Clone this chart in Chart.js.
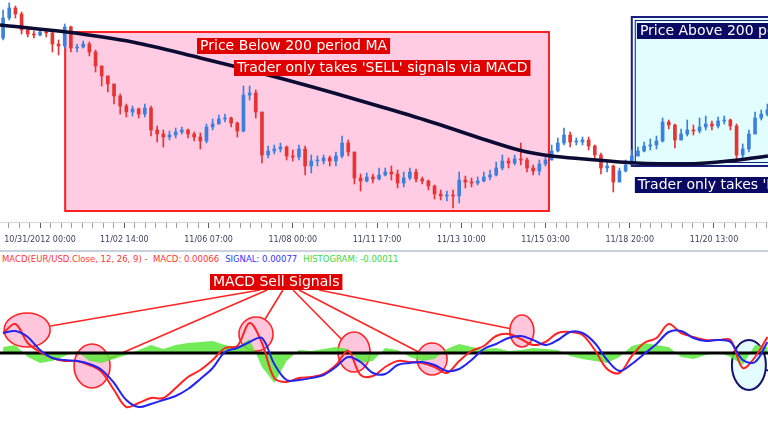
<!DOCTYPE html>
<html lang="en">
<head>
<meta charset="UTF-8">
<title>EUR/USD hourly - 200 MA and MACD</title>
<script src="https://cdn.jsdelivr.net/npm/chart.js"></script>
<style>
    body{
        margin: 0;
        width: 768px;
        height: 432px;
        overflow: hidden;
        position: relative;
        background: #fff;
        font-family: "DejaVu Sans", sans-serif;
    }
    #priceChart{ position: absolute; left: 0; top: 0; }
    #macdChart{ position: absolute; left: 0; top: 262px; }
    .sep{ position: absolute; left: 0; top: 250px; width: 768px; height: 2px; background: #c9d1dc; }
    .legend{ position: absolute; left: 2px; top: 254px; font-size: 8.5px; line-height: 10px; white-space: nowrap; }
    .legend span{ margin-right: 6px; }
</style>
</head>
<body>
<canvas id="priceChart" width="768" height="250"></canvas>
<div class="sep"></div>
<div class="legend"><span style="color:#ff3434">MACD(EUR/USD.Close, 12, 26, 9) -&nbsp; MACD: 0.00066</span><span style="color:#3434ff">SIGNAL: 0.00077</span><span style="color:#3ad83a">HISTOGRAM: -0.00011</span></div>
<canvas id="macdChart" width="768" height="170"></canvas>
<script>
// time axis is in hours, 0 = 10/31/2012 00:00 (one label every 41 trading hours)
const timeLabels = ["10/31/2012 00:00", "11/02 14:00", "11/06 07:00", "11/08 00:00", "11/11 17:00",
    "11/13 10:00", "11/15 03:00", "11/18 20:00", "11/20 13:00"];
const labelStep = 41;
const xMin = -19.5, xMax = 354.3;

// 3-hour candles starting at hour -18
const firstCandleHour = -18;
const open0 = 1.2962;
const closes = [
    1.2982,1.2992,1.2986,1.2970,1.2966,1.2965,1.2968,1.2967,1.2956,1.2954,
    1.2973,1.2952,1.2953,1.2956,1.2948,1.2934,1.2924,1.2916,1.2904,1.2894,
    1.2888,1.2891,1.2886,1.2892,1.2870,1.2866,1.2863,1.2865,1.2868,1.2870,
    1.2866,1.2863,1.2859,1.2873,1.2876,1.2881,1.2882,1.2877,1.2869,1.2905,
    1.2907,1.2888,1.2845,1.2849,1.2851,1.2853,1.2844,1.2843,1.2851,1.2834,
    1.2839,1.2839,1.2842,1.2839,1.2844,1.2857,1.2848,1.2822,1.2819,1.2823,
    1.2821,1.2825,1.2828,1.2826,1.2817,1.2822,1.2828,1.2821,1.2819,1.2814,
    1.2806,1.2804,1.2805,1.2804,1.2820,1.2818,1.2817,1.2819,1.2823,1.2825,
    1.2832,1.2839,1.2837,1.2841,1.2840,1.2832,1.2829,1.2836,1.2840,1.2849,
    1.2857,1.2865,1.2858,1.2858,1.2860,1.2854,1.2845,1.2832,1.2834,1.2818,
    1.2829,1.2835,1.2844,1.2849,1.2854,1.2855,1.2859,1.2878,1.2875,1.2860,
    1.2866,1.2870,1.2869,1.2873,1.2876,1.2874,1.2879,1.2880,1.2874,1.2845,
    1.2851,1.2866,1.2882,1.2886,1.2890
];
const highs = [
    1.2990,1.2997,1.2994,1.2988,1.2971,1.2969,1.2971,1.2970,1.2968,1.2960,
    1.2976,1.2974,1.2956,1.2959,1.2958,1.2950,1.2934,1.2924,1.2916,1.2906,
    1.2896,1.2894,1.2892,1.2896,1.2894,1.2874,1.2870,1.2869,1.2872,1.2873,
    1.2871,1.2868,1.2867,1.2876,1.2881,1.2885,1.2886,1.2883,1.2878,1.2914,
    1.2914,1.2910,1.2888,1.2854,1.2855,1.2857,1.2854,1.2850,1.2855,1.2854,
    1.2845,1.2844,1.2845,1.2844,1.2848,1.2864,1.2860,1.2848,1.2826,1.2827,
    1.2826,1.2832,1.2832,1.2834,1.2830,1.2828,1.2832,1.2831,1.2823,1.2820,
    1.2815,1.2810,1.2809,1.2810,1.2828,1.2824,1.2822,1.2823,1.2828,1.2830,
    1.2838,1.2845,1.2842,1.2845,1.2857,1.2842,1.2835,1.2840,1.2844,1.2855,
    1.2862,1.2872,1.2868,1.2862,1.2863,1.2863,1.2855,1.2847,1.2838,1.2835,
    1.2832,1.2840,1.2850,1.2853,1.2858,1.2861,1.2864,1.2882,1.2880,1.2876,
    1.2871,1.2880,1.2875,1.2882,1.2884,1.2879,1.2883,1.2884,1.2881,1.2876,
    1.2856,1.2870,1.2888,1.2890,1.2896
];
const lows = [
    1.2960,1.2980,1.2982,1.2966,1.2963,1.2962,1.2964,1.2963,1.2948,1.2945,
    1.2952,1.2948,1.2948,1.2952,1.2944,1.2928,1.2914,1.2908,1.2896,1.2886,
    1.2883,1.2884,1.2882,1.2883,1.2864,1.2858,1.2853,1.2860,1.2862,1.2866,
    1.2862,1.2859,1.2851,1.2857,1.2870,1.2876,1.2878,1.2873,1.2863,1.2868,
    1.2900,1.2882,1.2837,1.2842,1.2846,1.2848,1.2840,1.2839,1.2840,1.2825,
    1.2827,1.2834,1.2836,1.2834,1.2834,1.2842,1.2844,1.2816,1.2809,1.2818,
    1.2817,1.2820,1.2824,1.2820,1.2812,1.2813,1.2820,1.2818,1.2816,1.2810,
    1.2801,1.2800,1.2799,1.2792,1.2797,1.2812,1.2813,1.2815,1.2818,1.2820,
    1.2824,1.2830,1.2832,1.2835,1.2835,1.2828,1.2825,1.2825,1.2834,1.2840,
    1.2848,1.2855,1.2853,1.2855,1.2855,1.2850,1.2842,1.2826,1.2828,1.2808,
    1.2818,1.2828,1.2838,1.2844,1.2848,1.2850,1.2851,1.2858,1.2871,1.2852,
    1.2860,1.2864,1.2865,1.2867,1.2870,1.2870,1.2872,1.2876,1.2870,1.2838,
    1.2842,1.2848,1.2866,1.2880,1.2884
];

// 200 period moving average
const maHours = [-19.5, 13, 45, 78, 111, 143, 168, 192, 217, 233, 249, 265, 290, 314, 330, 347, 354.3];
const maValues = [1.2975, 1.2968, 1.2958, 1.2942, 1.2925, 1.2907, 1.2892, 1.2877, 1.2860, 1.2850,
    1.2844, 1.2841, 1.2837, 1.2836, 1.2838, 1.2842, 1.2844];

// MACD panel, one value every 6 hours from hour -18
const firstMacdHour = -18;
const macdLine = [
    0.00080, 0.00116, 0.00040, 0.00004, -0.00020, -0.00032, -0.00032, -0.00048, -0.00076, -0.00148,
    -0.00216, -0.00200, -0.00180, -0.00180, -0.00140, -0.00096, -0.00068, -0.00028, 0.00020, 0.00028,
    0.00120, 0.00040, -0.00100, -0.00116, -0.00100, -0.00096, -0.00084, -0.00048, 0.00008, -0.00088,
    -0.00092, -0.00056, -0.00032, -0.00036, -0.00040, -0.00056, -0.00080, -0.00032, 0.00008, 0.00028,
    0.00068, 0.00076, 0.00056, 0.00032, 0.00044, 0.00080, 0.00084, 0.00072, 0.00012, -0.00064,
    -0.00080, -0.00012, 0.00040, 0.00060, 0.00116, 0.00080, 0.00064, 0.00052, 0.00052, 0.00052,
    -0.00060, -0.00016, 0.00064
];
const signalLine = [
    0.00080, 0.00088, 0.00064, 0.00012, -0.00020, -0.00028, -0.00032, -0.00044, -0.00068, -0.00120,
    -0.00188, -0.00216, -0.00204, -0.00188, -0.00172, -0.00144, -0.00104, -0.00060, 0.00004, 0.00020,
    0.00044, 0.00060, -0.00044, -0.00108, -0.00108, -0.00100, -0.00088, -0.00056, -0.00016, -0.00036,
    -0.00080, -0.00084, -0.00048, -0.00040, -0.00036, -0.00048, -0.00072, -0.00064, -0.00028, 0.00016,
    0.00036, 0.00060, 0.00068, 0.00052, 0.00032, 0.00052, 0.00084, 0.00080, 0.00040, -0.00028,
    -0.00072, -0.00044, -0.00004, 0.00036, 0.00084, 0.00088, 0.00060, 0.00048, 0.00052, 0.00044,
    -0.00028, -0.00036, 0.00044
];
const histogram = [
    0.00024, 0.00032, -0.00016, -0.00040, -0.00032, -0.00012, 0.00008, -0.00032, -0.00040, -0.00024,
    -0.00008, 0.00012, 0.00032, 0.00016, 0.00032, 0.00040, 0.00044, 0.00048, 0.00032, 0.00024,
    0.00056, -0.00056, -0.00120, -0.00032, 0.00012, 0.00008, 0.00016, 0.00024, 0.00016, -0.00040,
    -0.00032, 0.00020, 0.00012, -0.00016, -0.00032, -0.00024, 0.00016, 0.00036, 0.00024, 0.00016,
    0.00020, 0.00008, 0.00012, 0.00020, 0.00016, 0.00012, -0.00012, -0.00024, -0.00032, -0.00040,
    -0.00016, 0.00028, 0.00040, 0.00032, 0.00024, -0.00016, -0.00024, -0.00008, 0.00004, -0.00016,
    -0.00048, 0.00032, 0.00024
];

// annotations (data coordinates: hours / price or hours / macd value)
const priceBoxes = [
    {x0: 12.2, x1: 247.7, y0: 1.2968, y1: 1.2789, fill: "#ffcce3", stroke: "#ff2020", inner: false},
    {x0: 288, x1: 372, y0: 1.2983, y1: 1.2834, fill: "#e2fdfe", stroke: "#1c1c7c", inner: true}
];
const priceNotes = [
    {text: "Price Below 200 period MA", x: 76.4, y: 1.2962, bg: "#e10000"},
    {text: "Trader only takes 'SELL' signals via MACD", x: 94.4, y: 1.2940, bg: "#e10000"},
    {text: "Price Above 200 period MA", x: 290.5, y: 1.2977, bg: "#0a0a64"},
    {text: "Trader only takes 'BUY' signals via MACD", x: 289.5, y: 1.2823, bg: "#0a0a64"}
];
const sellNote = {text: "MACD Sell Signals", x: 82.7, y: 0.00316, bg: "#e10000"};
const sellCircles = [
    {x: -6.3, y: 0.00092, rx: 23, ry: 17, from: 107.1},
    {x: 25.3, y: -0.00052, rx: 18, ry: 22, from: 110.5},
    {x: 105.1, y: 0.00076, rx: 17, ry: 17, from: 118.2},
    {x: 152.8, y: 0.00004, rx: 16, ry: 20, from: 123.1},
    {x: 190.8, y: -0.00024, rx: 15, ry: 16, from: 126.0},
    {x: 234.5, y: 0.00088, rx: 12, ry: 16, from: 135.8}
];
const buyCircle = {x: 345, y: -0.00048, rx: 17, ry: 25, toX: 370, toY: -0.00108};

Chart.defaults.font.family = '"DejaVu Sans", sans-serif';

const candleHours = closes.map((c, i) => firstCandleHour + 3 * i);
const opens = [open0].concat(closes.slice(0, -1));
const candleColors = closes.map((c, i) => c >= opens[i] ? "#3a80dc" : "#e63434");
const bodies = closes.map((c, i) => ({x: candleHours[i], y: [opens[i], c]}));
const wicks = closes.map((c, i) => ({x: candleHours[i], y: [lows[i], highs[i]]}));
const maPoints = maHours.map((h, i) => ({x: h, y: maValues[i]}));

// minor tick every 1/8 of a label step
const tickHours = [];
for (let k = -3; k * labelStep / 8 <= xMax; k++) tickHours.push(k * labelStep / 8);

function drawNote(ctx, text, px, py, bg, size) {
    ctx.font = size + 'px "DejaVu Sans"';
    const w = ctx.measureText(text).width + 6;
    ctx.fillStyle = bg;
    ctx.fillRect(px, py, w, 16);
    ctx.fillStyle = "#fff";
    ctx.textBaseline = "middle";
    ctx.textAlign = "left";
    ctx.fillText(text, px + 3, py + 8.5);
    return w;
}

const pricePlugin = {
    id: "priceNotes",
    beforeDatasetsDraw(chart) {
        const {ctx, scales: {x, y}} = chart;
        ctx.save();
        priceBoxes.forEach(b => {
            const l = x.getPixelForValue(b.x0), r = x.getPixelForValue(b.x1);
            const t = y.getPixelForValue(b.y0), btm = y.getPixelForValue(b.y1);
            ctx.fillStyle = b.fill;
            ctx.fillRect(l, t, r - l, btm - t);
            ctx.strokeStyle = b.stroke;
            ctx.lineWidth = 2;
            ctx.strokeRect(l, t, r - l, btm - t);
            if (b.inner) {
                ctx.lineWidth = 1;
                ctx.strokeRect(l + 3.5, t + 3.5, r - l - 7, btm - t - 7);
            }
        });
        ctx.restore();
    },
    afterDatasetsDraw(chart) {
        const {ctx, scales: {x, y}} = chart;
        ctx.save();
        priceNotes.forEach(n => drawNote(ctx, n.text, x.getPixelForValue(n.x), y.getPixelForValue(n.y), n.bg, 14));
        ctx.restore();
    }
};

const macdPlugin = {
    id: "macdNotes",
    beforeDatasetsDraw(chart) {
        const {ctx, scales: {x, y}} = chart;
        const fromY = y.getPixelForValue(sellNote.y) + 16;
        ctx.save();
        ctx.strokeStyle = "#ff2424";
        ctx.lineWidth = 1.6;
        sellCircles.forEach(c => {
            ctx.beginPath();
            ctx.moveTo(x.getPixelForValue(c.from), fromY);
            ctx.lineTo(x.getPixelForValue(c.x), y.getPixelForValue(c.y));
            ctx.stroke();
        });
        sellCircles.forEach(c => {
            ctx.beginPath();
            ctx.ellipse(x.getPixelForValue(c.x), y.getPixelForValue(c.y), c.rx, c.ry, 0, 0, Math.PI * 2);
            ctx.fillStyle = "#ffc6dc";
            ctx.fill();
            ctx.stroke();
        });
        const bx = x.getPixelForValue(buyCircle.x), by = y.getPixelForValue(buyCircle.y);
        ctx.strokeStyle = "#14146e";
        ctx.lineWidth = 2;
        ctx.beginPath();
        ctx.moveTo(bx, by);
        ctx.lineTo(x.getPixelForValue(buyCircle.toX), y.getPixelForValue(buyCircle.toY));
        ctx.stroke();
        ctx.beginPath();
        ctx.ellipse(bx, by, buyCircle.rx, buyCircle.ry, 0, 0, Math.PI * 2);
        ctx.fillStyle = "#e2fcff";
        ctx.fill();
        ctx.stroke();
        ctx.restore();
    },
    afterDatasetsDraw(chart) {
        const {ctx, scales: {x, y}} = chart;
        ctx.save();
        drawNote(ctx, sellNote.text, x.getPixelForValue(sellNote.x), y.getPixelForValue(sellNote.y), sellNote.bg, 14);
        ctx.restore();
    }
};

new Chart(document.getElementById("priceChart"), {
    type: "bar",
    data: {
        datasets: [
            {type: "line", data: maPoints, borderColor: "#0b0b33", borderWidth: 3.6, pointRadius: 0,
                cubicInterpolationMode: "monotone"},
            {data: bodies, backgroundColor: candleColors, barThickness: 3, minBarLength: 1, grouped: false},
            {data: wicks, backgroundColor: candleColors, barThickness: 1, grouped: false}
        ]
    },
    options: {
        responsive: false,
        animation: false,
        layout: {padding: 0, autoPadding: false},
        plugins: {legend: {display: false}, tooltip: {enabled: false}},
        scales: {
            x: {
                type: "linear",
                min: xMin,
                max: xMax,
                offset: false,
                afterFit: s => { s.height = 28; s.paddingLeft = 0; s.paddingRight = 0; },
                afterBuildTicks: s => { s.ticks = tickHours.map(v => ({value: v})); },
                ticks: {
                    autoSkip: false,
                    maxRotation: 0,
                    padding: 7,
                    color: "#3e3e5c",
                    font: {size: 8},
                    callback: (v, i) => (i - 3) % 8 === 0 ? timeLabels[(i - 3) / 8] : ""
                },
                grid: {
                    offset: false,
                    drawOnChartArea: false,
                    tickLength: 6,
                    tickColor: c => (c.index - 3) % 8 === 0 ? "#5a5a6a" : "#9a9aaa"
                },
                border: {color: "#d2d6de", width: 1}
            },
            y: {display: false, min: 1.2778, max: 1.3000}
        }
    },
    plugins: [pricePlugin]
});

const macdHours = macdLine.map((v, j) => firstMacdHour + 6 * j);
new Chart(document.getElementById("macdChart"), {
    type: "line",
    data: {
        datasets: [
            {data: macdHours.map((h, j) => ({x: h, y: signalLine[j]})), borderColor: "#2424ee", borderWidth: 2, pointRadius: 0, tension: 0.35},
            {data: macdHours.map((h, j) => ({x: h, y: macdLine[j]})), borderColor: "#ff2222", borderWidth: 2, pointRadius: 0, tension: 0.35},
            {data: [{x: xMin, y: 0}, {x: xMax, y: 0}], borderColor: "#000", borderWidth: 3, pointRadius: 0},
            {data: macdHours.map((h, j) => ({x: h, y: histogram[j]})), borderColor: "rgba(0,0,0,0)", borderWidth: 0,
                backgroundColor: "rgba(90,232,60,0.85)", fill: "origin", pointRadius: 0, tension: 0}
        ]
    },
    options: {
        responsive: false,
        animation: false,
        layout: {padding: 0, autoPadding: false},
        plugins: {legend: {display: false}, tooltip: {enabled: false}},
        scales: {
            x: {type: "linear", display: false, min: xMin, max: xMax},
            y: {display: false, min: -0.00316, max: 0.00364}
        }
    },
    plugins: [macdPlugin]
});
</script>
</body>
</html>
